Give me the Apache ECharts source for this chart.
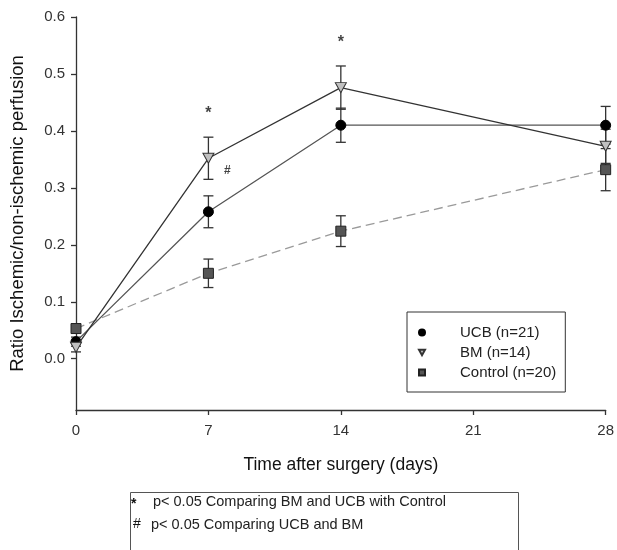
<!DOCTYPE html>
<html><head><meta charset="utf-8">
<script src="https://cdn.jsdelivr.net/npm/echarts@6/dist/echarts.min.js"></script>
<style>html,body{margin:0;padding:0;background:#fff}#c{width:617px;height:550px}</style>
</head><body><div id="c"></div>
<script>
var days = [0, 7, 14, 28];
var ucbMean = [0.030, 0.258, 0.410, 0.410];
var ucbErr  = [0.008, 0.028, 0.030, 0.033];
var bmMean  = [0.020, 0.352, 0.476, 0.373];
var bmErr   = [0.008, 0.037, 0.038, 0.030];
var ctlMean = [0.053, 0.150, 0.224, 0.332];
var ctlErr  = [0.008, 0.025, 0.027, 0.037];
var yTicks = [0, 0.1, 0.2, 0.3, 0.4, 0.5, 0.6];
var xTicks = [0, 7, 14, 21, 28];
var starMarks = [[7, 0.43], [14, 0.555]];
var hashMarks = [[8, 0.33]];
var seriesNames = ['UCB (n=21)', 'BM (n=14)', 'Control (n=20)'];
var notes = ['p< 0.05 Comparing BM and UCB with Control', 'p< 0.05 Comparing UCB and BM'];
var noteSymbols = ['*', '#'];

var FONT = '"Liberation Sans", Arial, sans-serif';
function pts(m){ return days.map(function(d,i){return [d, m[i]];}); }
function errs(m,e){ return days.map(function(d,i){return [d, m[i]-e[i], m[i]+e[i]];}); }
function errSeries(m,e,z){
  return {type:'custom', z:z, silent:true, data: errs(m,e),
    renderItem:function(params, api){
      var lo = api.coord([api.value(0), api.value(1)]);
      var hi = api.coord([api.value(0), api.value(2)]);
      var w = 5;
      var st = {stroke:'#333', lineWidth:1.3};
      return {type:'group', children:[
        {type:'line', shape:{x1:lo[0],y1:lo[1],x2:hi[0],y2:hi[1]}, style:st},
        {type:'line', shape:{x1:lo[0]-w,y1:lo[1],x2:lo[0]+w,y2:lo[1]}, style:st},
        {type:'line', shape:{x1:hi[0]-w,y1:hi[1],x2:hi[0]+w,y2:hi[1]}, style:st}
      ]};
    }};
}
var triDown = 'path://M0,0 L10,0 L5,9 Z';

var chart = echarts.init(document.getElementById('c'));
chart.setOption({
  animation:false,
  grid:{left:75, right:7, top:17, bottom:140},
  xAxis:{type:'value', min:0, max:28, interval:7,
    name:'Time after surgery (days)', nameLocation:'middle', nameGap:46,
    nameTextStyle:{fontFamily:FONT, fontSize:17.5, color:'#111'},
    axisLine:{onZero:false, lineStyle:{color:'#333', width:1.3}},
    axisTick:{show:true, length:5, lineStyle:{color:'#333', width:1.3}, customValues: xTicks},
    axisLabel:{fontFamily:FONT, fontSize:15, color:'#333', margin:13, customValues: xTicks},
    splitLine:{show:false}},
  yAxis:{type:'value', min:-0.09, max:0.6,
    name:'Ratio Ischemic/non-ischemic perfusion', nameLocation:'middle', nameGap:49,
    nameTextStyle:{fontFamily:FONT, fontSize:18.5, color:'#111'},
    axisLine:{show:true, onZero:false, lineStyle:{color:'#333', width:1.3}},
    axisTick:{show:true, length:5, lineStyle:{color:'#333', width:1.3}, customValues: yTicks},
    axisLabel:{fontFamily:FONT, fontSize:15, color:'#333', margin:11, customValues: yTicks,
      formatter:function(v){return v.toFixed(1);}},
    splitLine:{show:false}},
  legend:{orient:'vertical', left:407, top:312,
    borderColor:'#333', borderWidth:1, padding:[12,9,11,11], itemGap:3,
    itemWidth:6, itemHeight:6,
    textStyle:{fontFamily:FONT, fontSize:15, color:'#222', padding:[0,0,0,30], lineHeight:17},
    data:[{name:seriesNames[0], icon:'circle'},{name:seriesNames[1], icon:triDown},{name:seriesNames[2], icon:'rect'}]},
  series:[
    errSeries(ctlMean, ctlErr, 1),
    errSeries(ucbMean, ucbErr, 1),
    errSeries(bmMean, bmErr, 1),
    {name:seriesNames[2], type:'line', z:3, data:pts(ctlMean), symbol:'rect', symbolSize:10,
      lineStyle:{color:'#9a9a9a', width:1.3, type:[9,5]},
      itemStyle:{color:'#555', borderColor:'#222', borderWidth:1}},
    {name:seriesNames[0], type:'line', z:4, data:pts(ucbMean), symbol:'circle', symbolSize:10,
      lineStyle:{color:'#555', width:1.3},
      itemStyle:{color:'#000', borderColor:'#000', borderWidth:1}},
    {name:seriesNames[1], type:'line', z:5, data:pts(bmMean), symbol:triDown, symbolSize:[11,10],
      lineStyle:{color:'#333', width:1.3},
      itemStyle:{color:'#c0c0c0', borderColor:'#333', borderWidth:1}},
    {type:'scatter', z:6, silent:true, symbolSize:0, data:starMarks,
      label:{show:true, position:'inside', formatter:'*', fontFamily:FONT, fontSize:16, fontWeight:'bold', color:'#111'}},
    {type:'scatter', z:6, silent:true, symbolSize:0, data:hashMarks,
      label:{show:true, position:'inside', formatter:'#', fontFamily:FONT, fontSize:12, fontWeight:'bold', color:'#111'}}
  ],
  graphic:[
    {type:'rect', left:128, top:490, shape:{width:388, height:70}, style:{fill:'none', stroke:'#555', lineWidth:1}},
    {type:'text', left:131, top:497, style:{text:noteSymbols[0], font:'bold 14px '+FONT, fill:'#111'}},
    {type:'text', left:153, top:494, style:{text:notes[0], font:'14.5px '+FONT, fill:'#222'}},
    {type:'text', left:133, top:517, style:{text:noteSymbols[1], font:'14px '+FONT, fill:'#111'}},
    {type:'text', left:151, top:517, style:{text:notes[1], font:'14.5px '+FONT, fill:'#222'}}
  ]
});
</script></body></html>
